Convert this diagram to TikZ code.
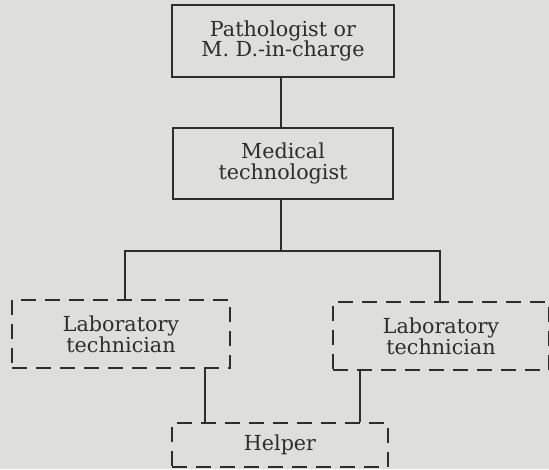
\documentclass[tikz,border=0pt]{standalone}
\usepackage{fontspec}
\setmainfont{DejaVu Serif}
\usepackage{tikz}
\usetikzlibrary{positioning, calc}
\definecolor{paper}{RGB}{222,222,220}
\definecolor{ink}{RGB}{45,45,45}
\newcommand{\boxtext}{\fontsize{15.5}{15.5}\selectfont\lineskiplimit=-8pt\relax}
\tikzset{
    solidbox/.style={rectangle, draw=ink, line width=1.5pt, align=center, text=ink, font=\boxtext, inner sep=2pt},
    dashbox/.style={rectangle, draw=ink, line width=1.9pt, dash pattern=on 11pt off 7pt, align=center, text=ink, font=\boxtext, inner sep=2pt},
    conn/.style={draw=ink, line width=1.4pt}
}

\begin{document}
\begin{tikzpicture}[x=0.75pt, y=-0.75pt]
        % Paper
        \fill[paper] (0,0) rectangle (549,469);
        \useasboundingbox (0,0) rectangle (549,469);

        % Upper chain
        \node[solidbox, minimum width=166.5pt, minimum height=54pt] (patho) at (283,41) {Pathologist or\\M. D.-in-charge};
        \node[solidbox, minimum width=165pt, minimum height=53pt] (medtech) at (283,163.5) {Medical\\technologist};

        % Technicians (dashed)
        \node[dashbox, minimum width=163.5pt, minimum height=51pt] (labL) at (121,334) {Laboratory\\technician};
        \node[dashbox, minimum width=162pt, minimum height=51pt] (labR) at (441,336) {Laboratory\\technician};
        \node[dashbox, minimum width=162pt, minimum height=33pt] (helper) at (280,445) {Helper};

        \coordinate (split) at (281,251);
        \coordinate (hlL) at ($(labL.south)+(84,0)$);
        \coordinate (hlR) at ($(labR.south)+(-81,0)$);

        % Connectors
        \draw[conn] (patho.south -| split) -- (medtech.north -| split);
        \draw[conn] (medtech.south -| split) -- (split);
        \draw[conn] ($(labL.north)+(4,0)$) |- (split) -| ($(labR.north)+(-1,0)$);
        \draw[conn] (hlL) -- (hlL |- helper.north);
        \draw[conn] (hlR) -- (hlR |- helper.north);

    \end{tikzpicture}
\end{document}
